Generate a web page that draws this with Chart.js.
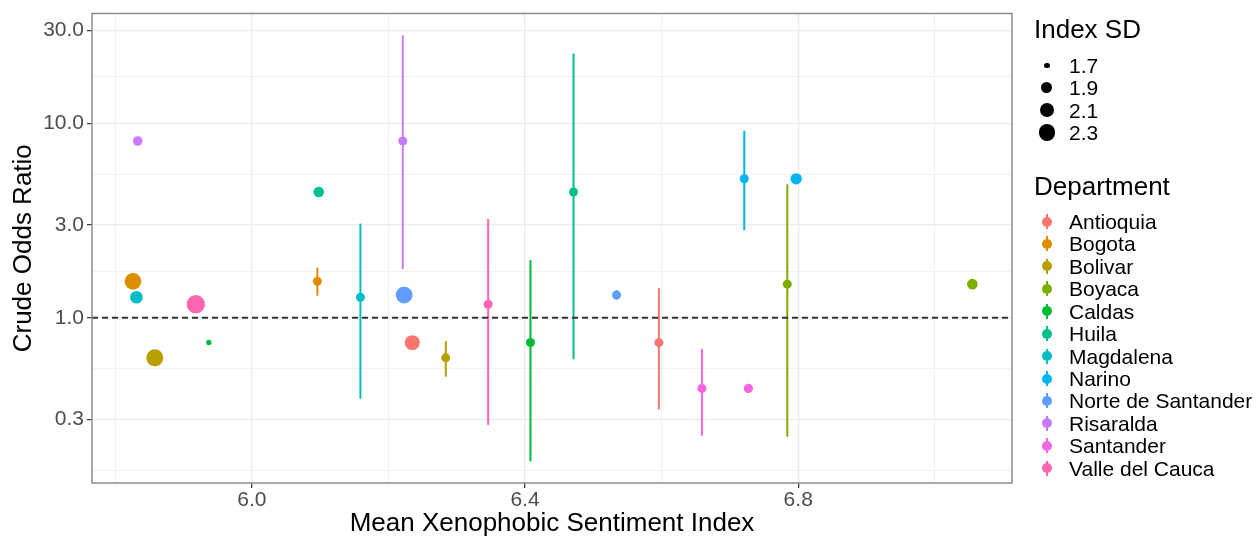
<!DOCTYPE html>
<html lang="en">
<head>
<meta charset="UTF-8">
<title>Crude Odds Ratio by Mean Xenophobic Sentiment Index</title>
<script src="https://cdn.jsdelivr.net/npm/chart.js@4.4.1/dist/chart.umd.min.js"></script>
<style>
    * {
        margin: 0;
        padding: 0;
        box-sizing: border-box;
    }

    body {
        background: #fff;
        font-family: "Liberation Sans", Arial, sans-serif;
    }

    .wrap {
        position: relative;
        width: 1258px;
        height: 537px;
    }

    /* legend on the right, built from the data arrays */
    .legend-title {
        position: absolute;
        left: 1034px;
        font-size: 26px;
        line-height: 26px;
        color: #000;
        white-space: nowrap;
    }

    .legend-item {
        position: absolute;
        left: 1034px;
        height: 22px;
        width: 224px;
        font-size: 21px;
        line-height: 22px;
        color: #000;
        white-space: nowrap;
    }

    .legend-item .key {
        position: absolute;
        left: 0;
        top: 0;
        width: 26px;
        height: 22px;
    }

    .legend-item .key .bar {
        position: absolute;
        left: 12px;
        top: 3px;
        width: 2px;
        height: 15px;
    }

    .legend-item .key .dot {
        position: absolute;
        border-radius: 50%;
    }

    .legend-item .text {
        position: absolute;
        left: 35px;
        top: 0;
    }
</style>
</head>
<body>
<div class="wrap" id="wrap">
    <canvas id="orChart" width="1258" height="537"></canvas>
</div>

<script>
    // Data
    const departments = ['Antioquia', 'Bogota', 'Bolivar', 'Boyaca', 'Caldas', 'Huila', 'Magdalena',
        'Narino', 'Norte de Santander', 'Risaralda', 'Santander', 'Valle del Cauca'];
    const deptColors = ['#F8766D', '#DE8C00', '#B79F00', '#7CAE00', '#00BA38', '#00C08B', '#00BFC4',
        '#00B4F0', '#619CFF', '#C77CFF', '#F564E3', '#FF64B0'];
    const oddsRatio = [0.746, 1.54, 0.623, 1.49, 0.747, 4.43, 1.275, 5.18, 1.31, 8.1, 0.434, 1.175];
    const ciLower = [0.339, 1.30, 0.499, 0.245, 0.183, 0.613, 0.384, 2.82, 1.24, 1.78, 0.248, 0.282];
    const ciUpper = [1.42, 1.81, 0.76, 4.85, 1.98, 22.8, 3.05, 9.15, 1.39, 28.3, 0.693, 3.22];
    // x position of the point-range marks and of the plain (sized) marks
    const meanIndexRange = [6.596, 6.096, 6.284, 6.784, 6.408, 6.471, 6.159, 6.721, 6.534, 6.221, 6.659, 6.346];
    const meanIndexPoint = [6.235, 5.826, 5.858, 7.055, 5.937, 6.098, 5.831, 6.797, 6.223, 5.833, 6.727, 5.918];
    const indexSD = [2.18, 2.34, 2.37, 1.88, 1.70, 1.88, 2.00, 1.92, 2.34, 1.83, 1.81, 2.50];
    const sdBreaks = [1.7, 1.9, 2.1, 2.3];

    const xMajor = [6.0, 6.4, 6.8];
    const xMinor = [5.8, 6.2, 6.6, 7.0];
    const xTickLabels = ['6.0', '6.4', '6.8'];
    const yMajor = [0.3, 1, 3, 10, 30];
    const yMinor = [0.164, 0.548, 1.732, 5.477, 17.32];
    const yTickLabels = ['0.3', '1.0', '3.0', '10.0', '30.0'];

    // point size from Index SD (area-like growth, as in the size legend)
    function sdRadius(sd) {
        return (3.35 + 16.5 * Math.sqrt(Math.max(0, sd - 1.685))) / 2;
    }

    const isMajor = (list, v) => list.some(m => Math.abs(m - v) < 1e-9);

    // Confidence interval lines, drawn under the points
    const errorBars = {
        id: 'errorBars',
        beforeDatasetsDraw(chart) {
            const { ctx, scales: { x, y } } = chart;
            ctx.save();
            ctx.lineWidth = 2;
            departments.forEach((d, i) => {
                const px = x.getPixelForValue(meanIndexRange[i]);
                ctx.strokeStyle = deptColors[i];
                ctx.beginPath();
                ctx.moveTo(px, y.getPixelForValue(ciLower[i]));
                ctx.lineTo(px, y.getPixelForValue(ciUpper[i]));
                ctx.stroke();
            });
            ctx.restore();
        }
    };

    // dashed reference line at OR = 1 and the panel border
    const refLine = {
        id: 'refLine',
        afterDatasetsDraw(chart) {
            const { ctx, chartArea: a, scales: { y } } = chart;
            const py = y.getPixelForValue(1);
            ctx.save();
            ctx.strokeStyle = '#333333';
            ctx.lineWidth = 2;
            ctx.setLineDash([6, 4]);
            ctx.beginPath();
            ctx.moveTo(a.left, py);
            ctx.lineTo(a.right, py);
            ctx.stroke();
            ctx.restore();
        },
        afterDraw(chart) {
            const { ctx, chartArea: a } = chart;
            ctx.save();
            ctx.strokeStyle = '#8C8C8C';
            ctx.lineWidth = 1.5;
            ctx.strokeRect(a.left, a.top, a.right - a.left, a.bottom - a.top);
            ctx.restore();
        }
    };

    function initializeChart() {
        Chart.defaults.font.family = '"Liberation Sans", Arial, sans-serif';
        const ctx = document.getElementById('orChart').getContext('2d');

        new Chart(ctx, {
            type: 'scatter',
            data: {
                datasets: [
                    {
                        label: 'Index SD',
                        data: departments.map((d, i) => ({ x: meanIndexPoint[i], y: oddsRatio[i] })),
                        backgroundColor: deptColors,
                        borderWidth: 0,
                        pointRadius: indexSD.map(sdRadius),
                        pointHoverRadius: indexSD.map(sdRadius)
                    },
                    {
                        label: 'Department',
                        data: departments.map((d, i) => ({ x: meanIndexRange[i], y: oddsRatio[i] })),
                        backgroundColor: deptColors,
                        borderWidth: 0,
                        pointRadius: 4.5,
                        pointHoverRadius: 4.5
                    }
                ]
            },
            options: {
                responsive: false,
                animation: false,
                layout: { padding: { top: 11, right: 246, left: 0, bottom: 0 } },
                plugins: {
                    legend: { display: false },
                    tooltip: { enabled: false }
                },
                scales: {
                    x: {
                        type: 'linear',
                        min: 5.766,
                        max: 7.113,
                        afterBuildTicks: s => {
                            s.ticks = xMajor.concat(xMinor).sort((a, b) => a - b).map(v => ({ value: v }));
                        },
                        afterFit: s => { s.height = 54; },
                        border: { display: false },
                        grid: {
                            color: '#EBEBEB',
                            lineWidth: c => isMajor(xMajor, c.tick.value) ? 1.3 : 0.7,
                            tickLength: 5,
                            tickWidth: 1.2,
                            tickColor: c => isMajor(xMajor, c.tick.value) ? '#333333' : 'rgba(0,0,0,0)'
                        },
                        ticks: {
                            autoSkip: false,
                            maxRotation: 0,
                            minRotation: 0,
                            padding: 2,
                            color: '#4D4D4D',
                            font: { size: 21, lineHeight: 1 },
                            callback: v => {
                                const k = xMajor.findIndex(m => Math.abs(m - v) < 1e-9);
                                return k >= 0 ? xTickLabels[k] : '';
                            }
                        },
                        title: {
                            display: true,
                            text: 'Mean Xenophobic Sentiment Index',
                            color: '#000',
                            font: { size: 26, lineHeight: 1 },
                            padding: 0
                        }
                    },
                    y: {
                        type: 'logarithmic',
                        min: 0.1418,
                        max: 36.6,
                        afterBuildTicks: s => {
                            s.ticks = yMajor.concat(yMinor).sort((a, b) => a - b).map(v => ({ value: v }));
                        },
                        afterFit: s => { s.width = 92; },
                        border: { display: false },
                        grid: {
                            color: '#EBEBEB',
                            lineWidth: c => isMajor(yMajor, c.tick.value) ? 1.3 : 0.7,
                            tickLength: 5,
                            tickWidth: 1.2,
                            tickColor: c => isMajor(yMajor, c.tick.value) ? '#333333' : 'rgba(0,0,0,0)'
                        },
                        ticks: {
                            autoSkip: false,
                            padding: 3,
                            color: '#4D4D4D',
                            font: { size: 21, lineHeight: 1 },
                            callback: v => {
                                const k = yMajor.findIndex(m => Math.abs(m - v) < 1e-9);
                                return k >= 0 ? yTickLabels[k] : '';
                            }
                        },
                        title: {
                            display: true,
                            text: 'Crude Odds Ratio',
                            color: '#000',
                            font: { size: 26, lineHeight: 1 },
                            padding: { top: 11, bottom: 0 }
                        }
                    }
                }
            },
            plugins: [errorBars, refLine]
        });
    }

    // Legend (HTML, right side)
    function initializeLegend() {
        const wrap = document.getElementById('wrap');

        const addTitle = (text, top) => {
            const t = document.createElement('div');
            t.className = 'legend-title';
            t.style.top = top + 'px';
            t.textContent = text;
            wrap.appendChild(t);
        };

        addTitle('Index SD', 16);
        sdBreaks.forEach((sd, i) => {
            const item = document.createElement('div');
            item.className = 'legend-item';
            item.style.top = (55 + i * 22.3) + 'px';
            const r = sdRadius(sd);
            item.innerHTML = `
                <div class="key"><div class="dot" style="background:#000;width:${2 * r}px;height:${2 * r}px;left:${13 - r}px;top:${10.5 - r}px"></div></div>
                <span class="text">${sd.toFixed(1)}</span>`;
            wrap.appendChild(item);
        });

        addTitle('Department', 173);
        departments.forEach((d, i) => {
            const item = document.createElement('div');
            item.className = 'legend-item';
            item.style.top = (211 + i * 22.43) + 'px';
            item.innerHTML = `
                <div class="key"><div class="bar" style="background:${deptColors[i]}"></div>
                <div class="dot" style="background:${deptColors[i]};width:10px;height:10px;left:8px;top:5.5px"></div></div>
                <span class="text">${d}</span>`;
            wrap.appendChild(item);
        });
    }

    initializeChart();
    initializeLegend();
</script>
</body>
</html>
